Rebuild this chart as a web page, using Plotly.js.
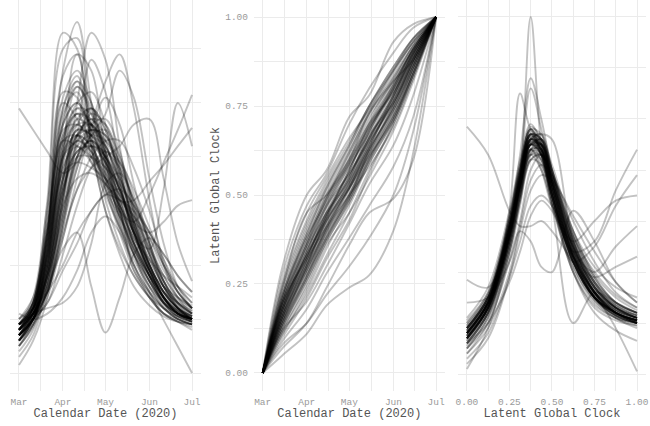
<!DOCTYPE html>
<html>
<head>
<meta charset="utf-8">
<script src="https://cdn.plot.ly/plotly-3.0.1.min.js"></script>
<style>html,body{margin:0;padding:0;background:#fff}#chart{width:650px;height:426px}</style>
</head>
<body>
<div id="chart"></div>
<script>
// ---- Panel 1: incidence vs calendar date (arbitrary units) ----
const leftDates = ['2020-03-01','2020-03-11','2020-03-21','2020-04-01','2020-04-11','2020-04-21','2020-05-01','2020-05-11','2020-05-21','2020-06-01','2020-06-11','2020-06-21','2020-07-01'];
const leftCurves = [
  [0.8,1.2,2.6,5.6,6.5,5.0,3.6,2.7,2.0,1.5,1.2,1.0,0.9],
  [0.9,1.3,3.0,6.0,6.2,4.4,3.2,2.4,1.8,1.4,1.1,1.0,0.9],
  [0.7,1.1,2.2,4.9,5.5,4.6,3.8,3.0,2.3,1.7,1.3,1.1,1.0],
  [0.6,1.0,2.0,4.6,5.4,5.0,4.0,3.0,2.2,1.5,1.1,0.95,0.85],
  [0.8,1.2,2.5,5.2,5.1,4.0,3.4,2.9,2.4,1.8,1.3,1.05,0.95],
  [0.5,0.9,1.9,4.2,5.3,4.9,3.9,2.8,2.0,1.4,1.1,0.95,0.9],
  [0.7,1.0,2.3,5.5,5.9,4.2,3.0,2.2,1.6,1.25,1.05,0.95,0.9],
  [0.7,1.0,1.8,3.5,4.6,4.9,4.3,3.3,2.4,1.7,1.25,1.05,0.95],
  [0.8,1.1,1.9,3.6,4.5,4.4,4.0,3.4,2.6,1.9,1.4,1.1,1.0],
  [0.6,0.9,1.6,3.2,4.3,4.8,4.6,3.8,2.8,1.9,1.35,1.1,1.0],
  [0.9,1.2,2.0,3.9,4.7,4.5,3.7,2.9,2.2,1.6,1.2,1.0,0.9],
  [0.7,1.0,1.7,3.0,4.0,4.6,4.7,4.1,3.0,2.0,1.4,1.1,1.0],
  [0.8,1.1,1.8,3.3,4.4,4.7,4.2,3.6,2.9,2.2,1.6,1.2,1.05],
  [0.6,1.0,1.5,2.8,3.8,4.4,4.5,4.0,3.3,2.4,1.7,1.2,1.0],
  [0.9,1.2,2.1,4.1,4.8,4.2,3.5,3.0,2.5,1.9,1.4,1.1,0.95],
  [0.7,1.0,1.9,3.7,4.4,4.5,4.4,3.7,2.7,1.8,1.3,1.05,0.95],
  [0.8,1.1,1.7,3.1,4.2,4.9,4.5,3.5,2.5,1.8,1.3,1.1,1.0],
  [0.5,0.85,1.5,2.9,4.0,4.3,4.0,3.4,2.7,2.0,1.5,1.2,1.05],
  [1.0,1.3,2.2,4.0,4.4,4.0,3.6,3.2,2.6,1.8,1.3,1.05,0.95],
  [0.7,1.0,1.8,3.4,4.1,4.2,4.1,3.8,3.2,2.4,1.7,1.3,1.1],
  [0.6,0.9,1.4,2.5,3.6,4.5,5.1,4.6,3.5,2.4,1.6,1.2,1.0],
  [0.8,1.0,1.5,2.6,3.4,4.0,4.3,4.3,3.8,3.0,2.1,1.5,1.2],
  [0.7,1.0,1.3,2.2,3.1,3.8,4.1,3.9,3.4,2.7,2.0,1.5,1.2],
  [0.9,1.1,1.6,2.8,4.4,5.8,5.2,3.8,2.7,1.9,1.4,1.1,1.0],
  [0.8,1.1,1.7,3.2,5.0,6.3,5.8,4.2,2.9,2.0,1.4,1.1,1.0],
  [0.7,1.0,1.5,2.7,3.8,4.6,5.4,5.9,4.9,3.2,2.0,1.4,1.1],
  [0.9,1.2,1.8,2.9,3.9,4.4,4.8,5.6,5.1,3.6,2.4,1.6,1.2],
  [1.0,1.2,1.5,2.0,2.6,3.0,3.3,3.2,3.0,2.6,2.1,1.6,1.3],
  [0.9,1.0,1.3,1.9,2.4,3.0,3.3,3.4,3.1,2.5,1.9,1.5,1.2],
  [1.1,1.0,1.1,1.4,1.9,2.6,2.9,2.6,2.0,1.5,1.2,1.05,1.0],
  [0.9,1.1,1.2,1.3,1.6,2.4,3.5,3.7,3.2,2.6,2.2,1.8,1.5],
  [4.9,4.5,4.1,3.7,3.9,4.2,4.0,3.4,2.6,1.9,1.4,1.1,1.0],
  [0.9,1.1,1.6,2.3,2.6,1.6,0.75,1.4,2.2,2.5,2.2,1.8,1.5],
  [0.8,1.1,1.8,3.3,4.4,4.6,4.1,3.1,1.9,1.47,0.98,0.49,0.0],
  [0.7,1.0,1.8,3.6,4.5,4.4,3.8,3.2,3.2,3.55,3.85,4.2,4.54],
  [0.8,1.1,1.9,3.5,4.4,4.2,3.6,3.0,2.8,3.3,3.9,4.5,5.15],
  [0.9,1.1,1.5,2.7,4.0,4.5,4.2,3.5,2.6,2.3,3.4,5.0,4.2],
  [0.8,1.0,1.5,2.5,3.4,3.8,4.0,4.2,4.6,4.7,3.6,2.4,1.7],
  [0.15,0.6,1.4,3.2,4.3,4.1,3.4,2.6,1.9,1.4,1.1,0.95,0.8],
  [0.7,1.0,1.6,3.0,4.0,4.3,3.9,3.3,2.8,2.6,2.8,3.1,3.2],
  [0.8,1.3,3.2,6.3,6.0,4.2,3.0,2.3,1.8,1.4,1.2,1.0,0.9],
  [0.9,1.2,2.0,4.0,5.9,5.6,4.1,3.0,2.2,1.6,1.2,1.0,0.9],
  [0.6,1.1,2.4,4.4,4.9,4.6,4.0,3.2,2.4,1.8,1.4,1.15,1.0],
  [0.8,1.3,2.8,4.8,5.2,4.3,3.5,2.8,2.2,1.7,1.3,1.1,1.0],
  [0.7,1.2,2.6,4.5,4.6,4.4,4.2,3.6,2.8,2.1,1.6,1.3,1.1],
  [0.9,1.4,3.1,5.0,4.7,4.1,3.6,3.1,2.6,2.0,1.5,1.2,1.05],
  [0.5,0.9,2.0,3.8,4.3,4.1,3.8,3.3,2.7,2.1,1.6,1.25,1.05],
  [0.7,1.1,2.3,4.2,4.6,4.3,3.9,3.4,2.8,2.2,1.7,1.35,1.15],
  [0.8,1.2,2.5,4.3,4.2,4.0,3.7,3.1,2.4,1.8,1.4,1.15,1.0],
  [0.6,1.0,2.2,3.9,4.5,4.6,4.2,3.5,2.6,1.9,1.45,1.2,1.05],
  [1.0,1.4,2.7,4.6,5.0,4.5,3.7,2.9,2.3,1.8,1.5,1.3,1.15],
  [0.7,1.2,2.6,4.7,5.3,4.8,3.9,3.0,2.3,1.7,1.3,1.1,0.95],
  [0.4,0.8,1.7,3.4,4.2,4.4,4.3,3.9,3.1,2.3,1.7,1.3,1.1],
  [0.8,1.1,2.1,3.8,4.2,3.9,3.5,3.2,2.9,2.5,2.0,1.6,1.3],
  [0.9,1.3,2.5,4.4,4.8,4.7,4.4,3.7,2.8,2.0,1.5,1.2,1.0],
  [0.6,1.0,1.9,3.4,4.0,4.0,3.8,3.5,3.1,2.6,2.0,1.5,1.2],
  [0.7,1.2,2.4,4.1,4.4,4.2,3.6,2.9,2.3,1.8,1.4,1.15,1.0],
  [0.8,1.3,2.9,5.1,5.6,5.0,4.1,3.2,2.4,1.8,1.4,1.1,1.0],
  [0.5,1.0,2.1,4.0,4.7,4.9,4.5,3.7,2.8,2.0,1.5,1.2,1.0],
  [0.9,1.2,2.2,3.7,3.9,3.8,3.6,3.3,2.9,2.3,1.8,1.4,1.2],
  [0.7,1.1,2.3,4.3,5.0,5.2,4.6,3.6,2.6,1.9,1.4,1.15,1.0],
  [0.6,1.0,2.0,3.6,4.4,4.7,4.6,4.0,3.1,2.2,1.6,1.25,1.05],
  [0.8,1.2,2.4,4.0,4.3,4.5,4.4,3.9,3.2,2.4,1.8,1.4,1.2],
  [0.7,1.1,2.1,3.6,4.1,4.3,4.0,3.6,3.0,2.3,1.7,1.3,1.1],
  [0.9,1.3,2.6,4.3,4.4,3.9,3.3,2.7,2.2,1.7,1.35,1.15,1.0],
  [0.6,1.0,2.2,4.1,4.9,4.8,4.0,3.1,2.4,1.9,1.6,1.4,1.25],
  [0.8,1.2,2.6,4.6,5.0,4.6,4.3,3.8,3.0,2.2,1.6,1.3,1.1],
  [0.3,0.7,1.6,3.3,4.1,4.2,3.9,3.4,2.7,2.0,1.5,1.2,1.0],
  [0.7,1.0,1.8,3.1,3.6,3.7,3.5,3.1,2.6,2.0,1.5,1.2,1.0],
  [0.9,1.3,2.7,4.9,5.4,4.4,3.4,2.7,2.1,1.6,1.3,1.1,1.0],
  [0.6,1.1,2.4,4.3,4.8,4.6,3.9,3.1,2.5,2.1,1.8,1.6,1.4],
  [0.8,1.2,2.3,4.0,4.6,4.6,4.1,3.4,2.6,1.9,1.4,1.1,0.95]
];

// ---- Panel 2: latent global clock vs calendar date ----
const midDates = ['2020-03-01','2020-03-15','2020-04-01','2020-04-15','2020-05-01','2020-05-15','2020-06-01','2020-06-15','2020-07-01'];
const clockCurves = [
  [0,0.18,0.33,0.44,0.55,0.66,0.78,0.89,1],
  [0,0.20,0.36,0.47,0.58,0.68,0.80,0.90,1],
  [0,0.15,0.29,0.40,0.51,0.62,0.75,0.87,1],
  [0,0.22,0.39,0.50,0.60,0.71,0.83,0.92,1],
  [0,0.16,0.31,0.43,0.53,0.63,0.74,0.86,1],
  [0,0.13,0.26,0.37,0.48,0.60,0.73,0.86,1],
  [0,0.19,0.34,0.46,0.57,0.70,0.82,0.92,1],
  [0,0.17,0.32,0.45,0.56,0.65,0.76,0.88,1],
  [0,0.21,0.37,0.49,0.62,0.73,0.84,0.93,1],
  [0,0.14,0.27,0.39,0.50,0.61,0.72,0.84,1],
  [0,0.24,0.42,0.53,0.64,0.75,0.86,0.94,1],
  [0,0.11,0.23,0.35,0.47,0.59,0.71,0.84,1],
  [0,0.18,0.31,0.42,0.54,0.66,0.79,0.90,1],
  [0,0.20,0.35,0.45,0.54,0.64,0.77,0.89,1],
  [0,0.16,0.30,0.41,0.52,0.64,0.77,0.89,1],
  [0,0.12,0.24,0.36,0.45,0.55,0.68,0.82,1],
  [0,0.22,0.38,0.48,0.59,0.69,0.79,0.90,1],
  [0,0.19,0.33,0.43,0.52,0.61,0.71,0.84,1],
  [0,0.15,0.28,0.38,0.49,0.63,0.78,0.90,1],
  [0,0.17,0.34,0.47,0.58,0.67,0.76,0.87,1],
  [0,0.10,0.21,0.32,0.43,0.56,0.70,0.83,1],
  [0,0.26,0.45,0.55,0.66,0.74,0.85,0.94,1],
  [0,0.14,0.30,0.44,0.57,0.68,0.80,0.91,1],
  [0,0.20,0.32,0.41,0.50,0.58,0.69,0.83,1],
  [0,0.30,0.50,0.57,0.72,0.78,0.93,0.98,1],
  [0,0.28,0.47,0.56,0.70,0.80,0.90,0.97,1],
  [0,0.05,0.11,0.19,0.24,0.275,0.40,0.62,1],
  [0,0.07,0.14,0.24,0.36,0.45,0.49,0.60,1],
  [0,0.08,0.14,0.22,0.30,0.38,0.50,0.68,1],
  [0,0.09,0.18,0.28,0.38,0.47,0.58,0.72,1],
  [0,0.24,0.45,0.50,0.60,0.73,0.82,0.88,1],
  [0,0.12,0.20,0.30,0.42,0.53,0.64,0.78,1],
  [0,0.17,0.30,0.40,0.50,0.61,0.74,0.87,1],
  [0,0.19,0.35,0.47,0.56,0.66,0.78,0.89,1],
  [0,0.14,0.28,0.41,0.53,0.65,0.78,0.90,1],
  [0,0.21,0.38,0.49,0.59,0.70,0.81,0.91,1],
  [0,0.16,0.32,0.45,0.56,0.66,0.77,0.88,1],
  [0,0.13,0.27,0.40,0.52,0.63,0.75,0.87,1],
  [0,0.18,0.34,0.45,0.55,0.68,0.81,0.91,1],
  [0,0.15,0.30,0.43,0.54,0.65,0.76,0.88,1],
  [0,0.22,0.40,0.51,0.62,0.73,0.83,0.92,1],
  [0,0.12,0.25,0.37,0.48,0.59,0.71,0.85,1],
  [0,0.20,0.36,0.48,0.59,0.69,0.80,0.90,1],
  [0,0.17,0.33,0.44,0.55,0.67,0.80,0.91,1],
  [0,0.15,0.29,0.41,0.52,0.62,0.73,0.86,1],
  [0,0.23,0.41,0.52,0.63,0.74,0.85,0.93,1],
  [0,0.18,0.32,0.43,0.53,0.64,0.76,0.88,1],
  [0,0.14,0.27,0.38,0.50,0.62,0.75,0.88,1],
  [0,0.20,0.37,0.50,0.61,0.72,0.82,0.91,1],
  [0,0.16,0.31,0.42,0.52,0.63,0.74,0.86,1],
  [0,0.11,0.22,0.33,0.45,0.57,0.70,0.84,1],
  [0,0.25,0.43,0.54,0.65,0.75,0.86,0.94,1],
  [0,0.19,0.33,0.44,0.57,0.69,0.81,0.91,1],
  [0,0.16,0.29,0.39,0.49,0.60,0.72,0.85,1],
  [0,0.21,0.39,0.52,0.64,0.75,0.85,0.93,1],
  [0,0.13,0.26,0.38,0.49,0.60,0.72,0.85,1],
  [0,0.18,0.36,0.49,0.60,0.70,0.79,0.89,1]
];

// ---- Panel 3: incidence vs latent global clock ----
const clockX = [0,0.125,0.25,0.3125,0.375,0.4375,0.5,0.625,0.75,0.875,1];
const rightCurves = [
  [0.8,1.4,2.8,3.8,4.6,4.4,3.6,2.2,1.5,1.15,1.0],
  [0.9,1.5,3.0,4.0,4.7,4.3,3.5,2.1,1.4,1.1,1.0],
  [0.7,1.3,2.6,3.6,4.5,4.5,3.8,2.4,1.6,1.2,1.05],
  [1.0,1.6,3.1,4.1,4.8,4.3,3.4,2.0,1.35,1.1,1.0],
  [0.6,1.2,2.5,3.5,4.4,4.6,4.0,2.6,1.7,1.25,1.1],
  [0.85,1.45,2.9,3.9,4.8,4.7,3.9,2.4,1.55,1.2,1.05],
  [0.75,1.35,2.7,3.7,4.6,4.5,3.7,2.3,1.5,1.15,1.0],
  [0.9,1.5,2.9,3.9,4.5,4.2,3.4,2.1,1.45,1.15,1.0],
  [0.5,1.1,2.4,3.4,4.3,4.5,4.0,2.7,1.8,1.3,1.1],
  [1.1,1.7,3.2,4.2,4.9,4.5,3.6,2.2,1.45,1.1,0.95],
  [0.7,1.3,2.75,3.8,4.7,4.6,3.8,2.5,1.65,1.25,1.1],
  [0.8,1.4,2.8,3.7,4.4,4.1,3.3,2.0,1.3,1.05,0.95],
  [0.95,1.5,2.95,3.95,4.7,4.6,3.9,2.5,1.6,1.2,1.05],
  [0.65,1.25,2.6,3.6,4.5,4.4,3.7,2.4,1.6,1.25,1.1],
  [0.4,1.0,2.3,3.3,4.2,4.3,3.9,2.7,1.9,1.4,1.2],
  [0.85,1.4,2.85,3.85,4.75,4.4,3.5,2.2,1.5,1.2,1.05],
  [0.75,1.3,2.7,3.75,4.6,4.7,4.0,2.6,1.75,1.3,1.15],
  [0.9,1.45,2.9,3.95,4.85,4.6,3.7,2.3,1.5,1.15,1.0],
  [0.7,1.35,2.8,3.8,4.55,4.3,3.5,2.2,1.5,1.2,1.05],
  [0.8,1.4,2.75,3.75,4.65,4.55,3.75,2.35,1.55,1.2,1.05],
  [0.8,1.4,2.9,4.0,5.6,4.8,3.8,2.3,1.5,1.2,1.0],
  [0.8,1.4,2.9,3.9,7.0,4.5,3.6,2.2,1.5,1.2,1.0],
  [0.9,1.5,3.0,4.3,5.8,5.0,4.0,2.4,1.6,1.2,1.05],
  [0.7,1.3,3.2,5.5,4.8,4.6,3.9,2.5,1.6,1.2,1.05],
  [0.8,1.4,2.8,3.8,4.6,4.7,4.6,2.6,1.7,1.3,1.1],
  [0.6,1.0,1.8,2.4,3.1,3.4,3.2,2.3,1.6,1.2,1.0],
  [0.3,0.8,1.9,2.6,3.3,3.5,3.3,2.5,1.8,1.4,1.2],
  [0.5,1.0,2.2,2.8,2.6,2.1,2.0,3.2,2.6,1.8,1.4],
  [4.85,4.3,3.2,2.9,2.9,3.0,2.8,2.2,1.6,1.2,1.0],
  [0.8,1.4,2.8,3.7,4.3,4.0,3.3,1.0,1.6,1.4,1.2],
  [0.7,1.3,2.7,3.7,4.5,4.3,3.6,2.3,1.6,0.9,0.05],
  [0.8,1.4,2.8,3.7,4.5,4.3,3.5,2.4,2.6,3.6,4.4],
  [0.7,1.3,2.7,3.6,4.3,4.2,3.4,2.2,2.5,3.3,3.9],
  [0.9,1.5,2.9,3.8,4.4,4.0,3.3,2.6,3.0,3.4,3.5],
  [0.6,1.2,2.6,3.5,4.2,4.1,3.5,2.4,2.0,2.5,2.9],
  [0.8,1.4,2.8,3.8,4.4,4.2,3.4,2.3,1.9,2.1,2.3],
  [0.1,0.9,2.4,3.4,4.3,4.3,3.7,2.3,1.5,1.1,0.9],
  [0.7,1.3,2.7,3.7,4.5,4.3,3.5,2.0,1.2,0.85,0.65],
  [1.85,1.7,2.8,3.8,4.6,4.4,3.6,2.2,1.5,1.2,1.05],
  [0.7,1.25,2.6,3.6,4.4,4.4,3.8,2.5,1.7,1.3,1.1],
  [0.9,1.5,3.0,4.0,4.7,4.4,3.6,2.3,1.6,1.25,1.05],
  [0.8,1.35,2.7,3.7,4.5,4.5,3.9,2.6,1.8,1.35,1.15],
  [0.6,1.2,2.6,3.7,4.6,4.5,3.7,2.3,1.5,1.15,1.0],
  [1.0,1.55,3.0,4.0,4.7,4.3,3.5,2.2,1.5,1.2,1.05],
  [0.75,1.3,2.7,3.7,4.5,4.6,4.0,2.7,1.85,1.4,1.2],
  [0.85,1.45,2.85,3.85,4.65,4.4,3.6,2.3,1.55,1.2,1.05],
  [0.55,1.15,2.5,3.5,4.4,4.4,3.8,2.5,1.7,1.3,1.1],
  [0.95,1.55,3.05,4.05,4.8,4.5,3.7,2.3,1.5,1.15,1.0],
  [0.7,1.3,2.65,3.65,4.5,4.6,4.1,2.8,1.9,1.4,1.2],
  [0.8,1.4,2.8,3.8,4.6,4.4,3.6,2.3,1.6,1.3,1.15],
  [0.65,1.2,2.5,3.5,4.35,4.35,3.8,2.6,1.8,1.35,1.15],
  [0.9,1.45,2.9,3.9,4.7,4.5,3.7,2.4,1.6,1.25,1.1],
  [0.75,1.35,2.75,3.75,4.55,4.5,3.9,2.6,1.75,1.3,1.1],
  [0.85,1.4,2.8,3.85,4.7,4.6,3.8,2.4,1.6,1.2,1.0],
  [0.5,1.1,2.4,3.4,4.2,4.3,3.8,2.7,2.0,1.55,1.3],
  [1.05,1.6,3.1,4.1,4.8,4.4,3.5,2.2,1.5,1.2,1.05],
  [0.7,1.3,2.7,3.7,4.55,4.45,3.75,2.5,1.7,1.3,1.1],
  [0.8,1.4,2.8,3.8,4.6,4.5,3.8,2.5,1.7,1.35,1.2],
  [0.6,1.2,2.55,3.55,4.4,4.5,4.0,2.8,1.95,1.5,1.25],
  [0.9,1.5,2.9,3.9,4.6,4.3,3.5,2.2,1.5,1.2,1.05],
  [0.75,1.3,2.7,3.7,4.5,4.4,3.7,2.45,1.65,1.3,1.1],
  [0.4,0.9,2.0,2.9,3.8,4.1,3.9,3.0,2.2,1.6,1.3],
  [0.2,0.7,1.9,2.8,3.6,3.9,3.8,3.1,2.4,1.8,1.4],
  [1.4,1.5,2.2,3.0,4.0,4.3,3.9,2.8,2.1,1.7,1.5]
];

const monthTicks = ['2020-03-01','2020-04-01','2020-05-01','2020-06-01','2020-07-01'];
const monthLabels = ['Mar','Apr','May','Jun','Jul'];
const midMonthTicks = ['2020-03-16 12:00','2020-04-16','2020-05-16 12:00','2020-06-16'];
const clockTicks = [0,0.25,0.5,0.75,1];
const clockLabels = ['0.00','0.25','0.50','0.75','1.00'];
const clockMinor = [0.125,0.375,0.625,0.875];

const lineStyle = {color:'rgba(0,0,0,0.24)', width:1.9, shape:'spline', smoothing:1};
const traces = [];
leftCurves.forEach(c => traces.push({x:leftDates, y:c, xaxis:'x', yaxis:'y', type:'scatter', mode:'lines', line:lineStyle, hoverinfo:'skip', showlegend:false}));
clockCurves.forEach(c => traces.push({x:midDates, y:c, xaxis:'x2', yaxis:'y2', type:'scatter', mode:'lines', line:lineStyle, hoverinfo:'skip', showlegend:false}));
rightCurves.forEach(c => traces.push({x:clockX, y:c, xaxis:'x3', yaxis:'y3', type:'scatter', mode:'lines', line:lineStyle, hoverinfo:'skip', showlegend:false}));

const mono = 'Liberation Mono, Courier New, monospace';
const tickFont = {family:mono, size:9.5, color:'#9a9a9a'};
const titleFont = {family:mono, size:12, color:'#555'};
const grid = '#ebebeb';
const dateRange = ['2020-02-23 21:36','2020-07-07 02:24'];

function xDate(domain, anchor){
  return {domain:domain, anchor:anchor, type:'date', range:dateRange, tickvals:monthTicks, ticktext:monthLabels,
    showgrid:true, gridcolor:grid, gridwidth:1, zeroline:false, showline:false, ticks:'', ticklabelstandoff:3,
    tickfont:tickFont, minor:{tickvals:midMonthTicks, showgrid:true, gridcolor:grid, gridwidth:1},
    title:{text:'Calendar Date (2020)', font:titleFont, standoff:2}};
}
const layout = {
  width:650, height:426, margin:{l:0, r:0, t:0, b:35},
  paper_bgcolor:'#fff', plot_bgcolor:'#fff',
  xaxis: xDate([0.0159,0.3087],'y'),
  xaxis2: xDate([0.3908,0.6842],'y2'),
  xaxis3: {domain:[0.7052,0.9931], anchor:'y3', range:[-0.05,1.05], tickvals:clockTicks, ticktext:clockLabels,
    showgrid:true, gridcolor:grid, gridwidth:1, zeroline:false, showline:false, ticks:'', ticklabelstandoff:3,
    ticklabeloverflow:'allow', tickfont:tickFont, minor:{tickvals:clockMinor, showgrid:true, gridcolor:grid, gridwidth:1},
    title:{text:'Latent Global Clock', font:titleFont, standoff:2}},
  yaxis: {domain:[0,1], anchor:'x', range:[-0.333,6.907], tickvals:[0,1,2,3,4,5,6], showticklabels:false,
    showgrid:true, gridcolor:grid, gridwidth:1, zeroline:false, showline:false, ticks:''},
  yaxis2: {domain:[0,1], anchor:'x2', range:[-0.0506,1.0478], tickvals:clockTicks, ticktext:clockLabels,
    showgrid:true, gridcolor:grid, gridwidth:1, zeroline:false, showline:false, ticks:'', ticklabelstandoff:5,
    tickfont:tickFont, minor:{tickvals:clockMinor, showgrid:true, gridcolor:grid, gridwidth:1},
    title:{text:'Latent Global Clock', font:titleFont, standoff:3}},
  yaxis3: {domain:[0,1], anchor:'x3', range:[-0.333,7.333], tickvals:[0,1,2,3,4,5,6,7], showticklabels:false,
    showgrid:true, gridcolor:grid, gridwidth:1, zeroline:false, showline:false, ticks:''}
};
Plotly.newPlot('chart', traces, layout, {staticPlot:true, displayModeBar:false});
</script>
</body>
</html>
